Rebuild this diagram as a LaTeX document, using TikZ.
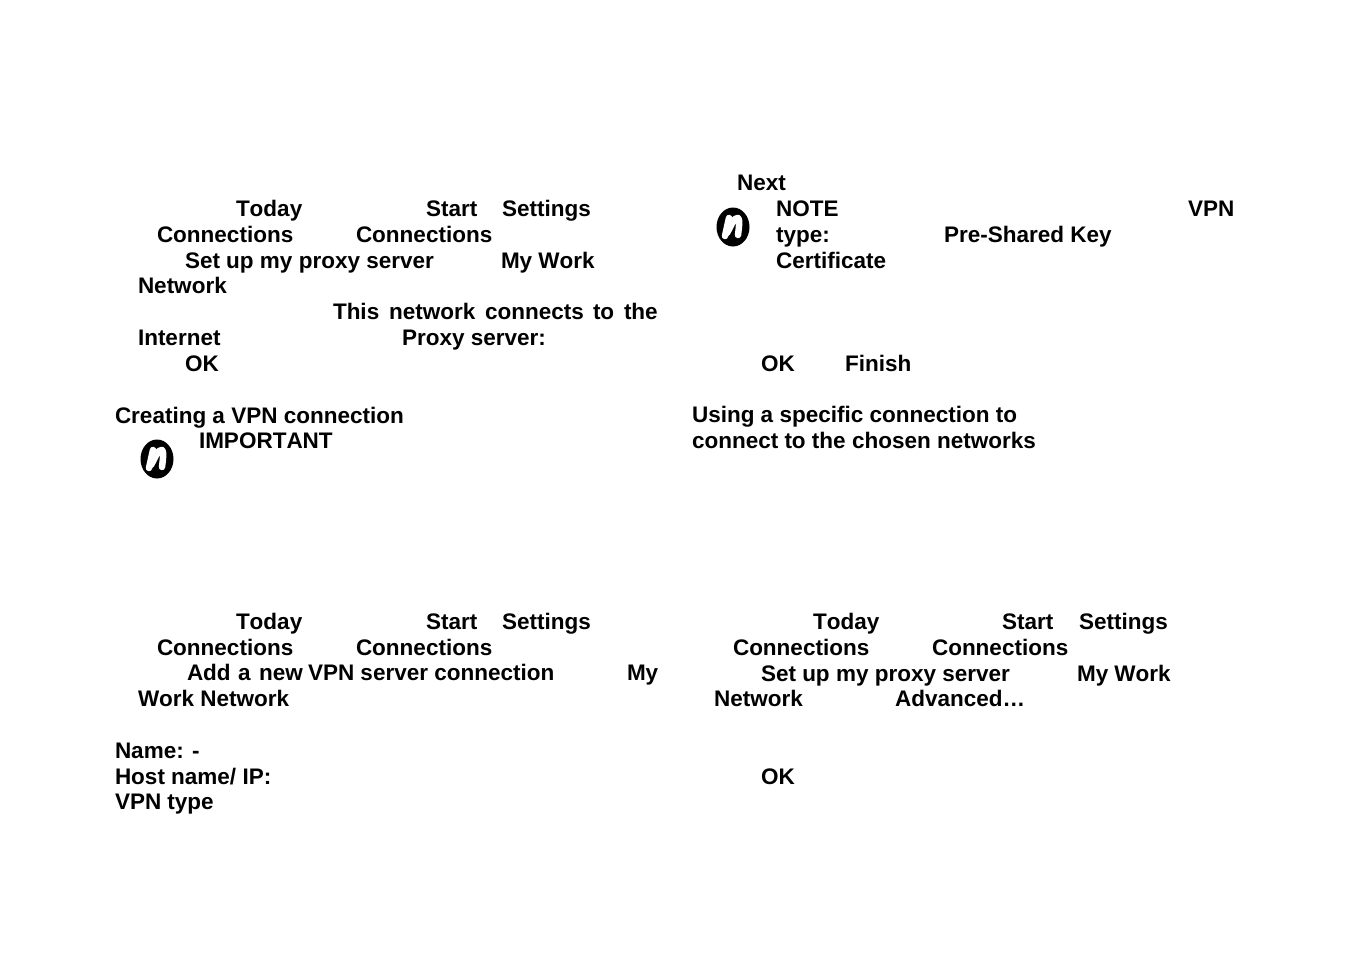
\documentclass[tikz,border=0pt]{standalone}
\usepackage{fontspec}
\setmainfont[Kerning=Off]{Liberation Sans}
\tikzset{tx/.style={inner sep=0pt,anchor=base west,font=\fontsize{22.5}{22.5}\selectfont\bfseries}}
\newcommand{\logoN}[2]{%
\fill[black] (#1,#2) ellipse[x radius=16.5,y radius=19.5];
\draw[white,line width=6.5,line cap=round,line join=round] (#1-8,#2+9) -- (#1-4,#2-9);
\draw[white,line width=6.5,line cap=round,line join=round] (#1-6,#2+6) .. controls (#1-2,#2-1) and (#1+1,#2-10) .. (#1+5,#2-9) .. controls (#1+7,#2-8) and (#1+6,#2) .. (#1+5,#2+8);
}
\begin{document}
\begin{tikzpicture}[x=1pt,y=-1pt,line width=0pt]
\useasboundingbox (0,0) rectangle (1350,954);
\node[tx] (a1) at (737,190) {Next};
\node[tx] (a2) at (236,216) {Today};
\node[tx] (a3) at (426,216) {Start};
\node[tx] (a4) at (502,216) {Settings};
\node[tx] (a5) at (776,216) {NOTE};
\node[tx] (a6) at (1188,216) {VPN};
\node[tx] (a7) at (157,242) {Connections};
\node[tx] (a8) at (356,242) {Connections};
\node[tx] (a9) at (776,242) {type:};
\node[tx] (a10) at (944,242) {Pre-Shared Key};
\node[tx] (a11) at (185,268) {Set up my proxy server};
\node[tx] (a12) at (501,268) {My Work};
\node[tx] (a13) at (776,268) {Certificate};
\node[tx] (a14) at (138,293) {Network};
\node[tx] (a15) at (333,319) {This};
\node[tx] (a16) at (389,319) {network};
\node[tx] (a17) at (485,319) {connects};
\node[tx] (a18) at (593,319) {to};
\node[tx] (a19) at (624,319) {the};
\node[tx] (a20) at (138,345) {Internet};
\node[tx] (a21) at (402,345) {Proxy server:};
\node[tx] (a22) at (185,371) {OK};
\node[tx] (a23) at (761,371) {OK};
\node[tx] (a24) at (845,371) {Finish};
\node[tx] (a25) at (115,423) {Creating a VPN connection};
\node[tx] (a26) at (692,422) {Using a specific connection to};
\node[tx] (a27) at (692,448) {connect to the chosen networks};
\node[tx] (a28) at (199,448) {IMPORTANT};
\node[tx] (b1) at (236,629) {Today};
\node[tx] (b2) at (426,629) {Start};
\node[tx] (b3) at (502,629) {Settings};
\node[tx] (b4) at (813,629) {Today};
\node[tx] (b5) at (1002,629) {Start};
\node[tx] (b6) at (1079,629) {Settings};
\node[tx] (b7) at (157,655) {Connections};
\node[tx] (b8) at (356,655) {Connections};
\node[tx] (b9) at (733,655) {Connections};
\node[tx] (b10) at (932,655) {Connections};
\node[tx] (b11) at (187,680) {Add};
\node[tx] (b12) at (238,680) {a};
\node[tx] (b13) at (259,680) {new};
\node[tx] (b14) at (308,680) {VPN server connection};
\node[tx] (b15) at (627,680) {My};
\node[tx] (b16) at (761,681) {Set up my proxy server};
\node[tx] (b17) at (1077,681) {My Work};
\node[tx] (b18) at (138,706) {Work Network};
\node[tx] (b19) at (714,706) {Network};
\node[tx] (b20) at (895,706) {Advanced…};
\node[tx] (b21) at (115,758) {Name: -};
\node[tx] (b22) at (115,784) {Host name/ IP:};
\node[tx] (b23) at (761,784) {OK};
\node[tx] (b24) at (115,809) {VPN type};
\logoN{157}{459}
\logoN{733}{227}
\end{tikzpicture}
\end{document}
